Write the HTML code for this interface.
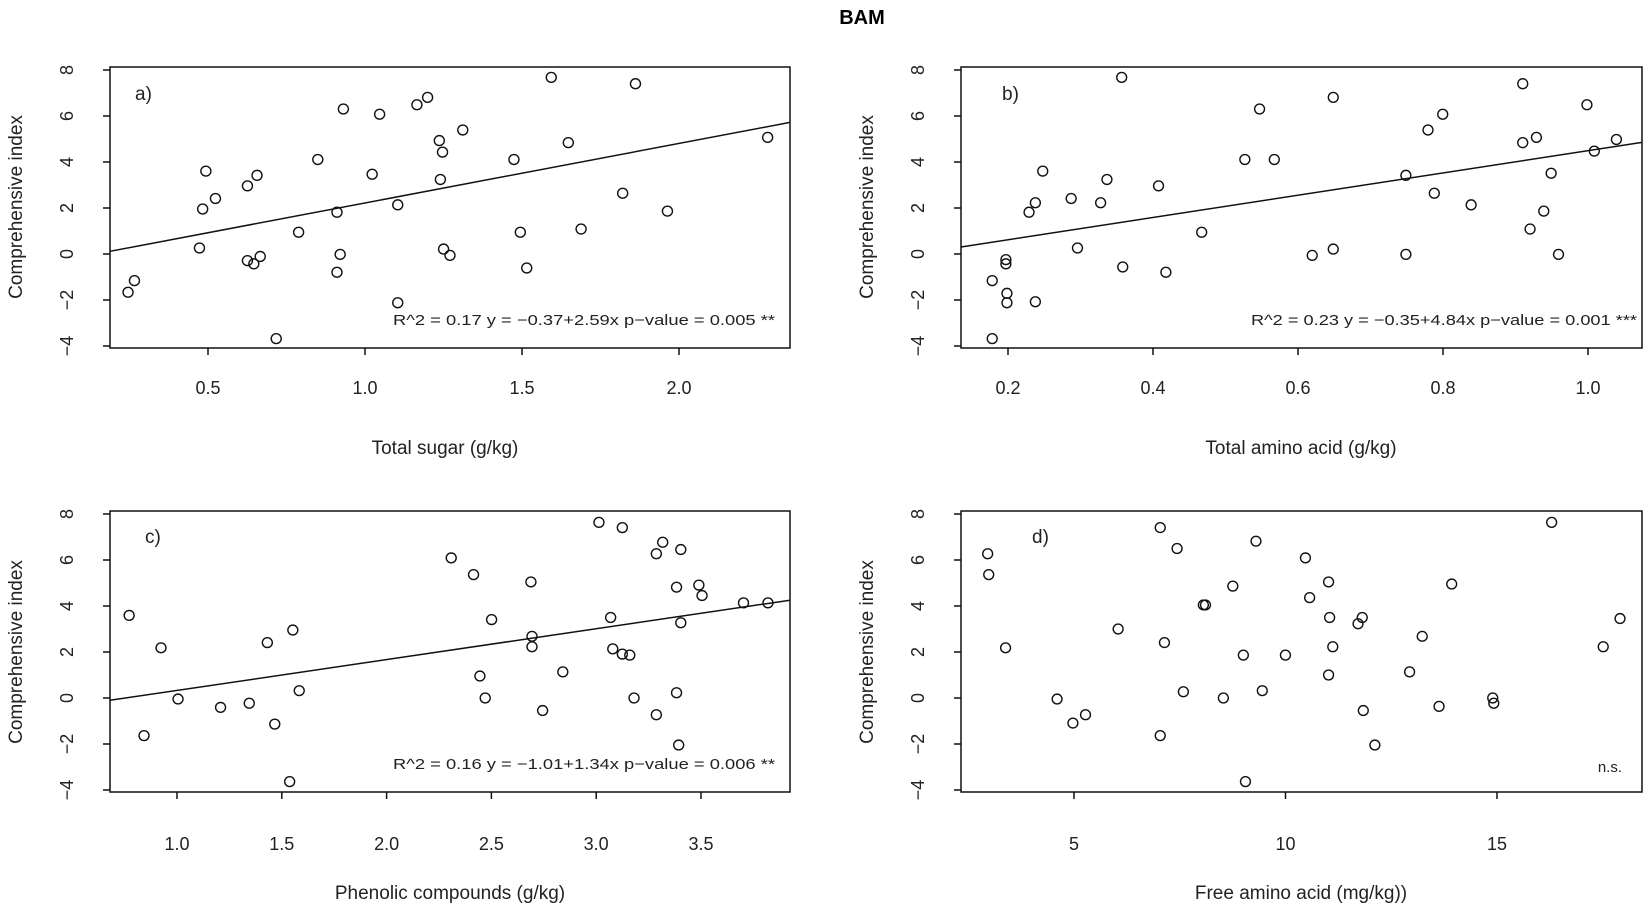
<!DOCTYPE html>
<html><head><meta charset="utf-8"><style>
html,body{margin:0;padding:0;background:#fff;}
svg{display:block;font-family:"Liberation Sans",Arial,sans-serif;}
.pt circle{fill:none;stroke:#111;stroke-width:1.4;vector-effect:non-scaling-stroke;}
.ax{stroke:#111;stroke-width:1.5;fill:none;}
.tk{font-size:18px;fill:#222;}
.lb{font-size:19px;fill:#222;}
</style></head><body>
<svg width="1645" height="906" viewBox="0 0 1645 906" xmlns="http://www.w3.org/2000/svg">
<text x="862" y="24" text-anchor="middle" font-weight="bold" font-size="20">BAM</text>

<!-- Panel a -->
<rect class="ax" x="110" y="67" width="680" height="281"/>
<g class="ax">
<path d="M103 70H110M103 116H110M103 162H110M103 208H110M103 254H110M103 300H110M103 346H110"/>
<path d="M208 348V355M365 348V355M522 348V355M679 348V355"/>
</g>
<g class="tk" text-anchor="middle">
<text x="73" y="70" transform="rotate(-90 73 70)">8</text>
<text x="73" y="116" transform="rotate(-90 73 116)">6</text>
<text x="73" y="162" transform="rotate(-90 73 162)">4</text>
<text x="73" y="208" transform="rotate(-90 73 208)">2</text>
<text x="73" y="254" transform="rotate(-90 73 254)">0</text>
<text x="73" y="300" transform="rotate(-90 73 300)">−2</text>
<text x="73" y="346" transform="rotate(-90 73 346)">−4</text>
<text x="208" y="394">0.5</text><text x="365" y="394">1.0</text><text x="522" y="394">1.5</text><text x="679" y="394">2.0</text>
</g>
<text class="lb" x="445" y="454" text-anchor="middle">Total sugar (g/kg)</text>
<text class="lb" x="22" y="207" text-anchor="middle" transform="rotate(-90 22 207)">Comprehensive index</text>
<text class="lb" x="135" y="100">a)</text>
<line x1="110" y1="251.3" x2="790" y2="122.4" stroke="#111" stroke-width="1.5"/>
<text x="775" y="325" text-anchor="end" font-size="15" textLength="382" lengthAdjust="spacingAndGlyphs" fill="#222">R^2 = 0.17 y = −0.37+2.59x p−value = 0.005 **</text>
<g class="pt" transform="matrix(1.066 0 0 1.0534 -8.4 -0.58)">
<circle cx="128" cy="278" r="4.7"/><circle cx="134" cy="267" r="4.7"/><circle cx="195" cy="236" r="4.7"/><circle cx="198" cy="199" r="4.7"/><circle cx="201" cy="163" r="4.7"/><circle cx="210" cy="189" r="4.7"/><circle cx="240" cy="177" r="4.7"/><circle cx="240" cy="248" r="4.7"/><circle cx="246" cy="251" r="4.7"/><circle cx="249" cy="167" r="4.7"/><circle cx="252" cy="244" r="4.7"/><circle cx="267" cy="322" r="4.7"/><circle cx="288" cy="221" r="4.7"/><circle cx="306" cy="152" r="4.7"/><circle cx="324" cy="202" r="4.7"/><circle cx="324" cy="259" r="4.7"/><circle cx="327" cy="242" r="4.7"/><circle cx="330" cy="104" r="4.7"/><circle cx="357" cy="166" r="4.7"/><circle cx="364" cy="109" r="4.7"/><circle cx="381" cy="288" r="4.7"/><circle cx="381" cy="195" r="4.7"/><circle cx="399" cy="100" r="4.7"/><circle cx="409" cy="93" r="4.7"/><circle cx="420" cy="134" r="4.7"/><circle cx="421" cy="171" r="4.7"/><circle cx="423" cy="145" r="4.7"/><circle cx="424" cy="237" r="4.7"/><circle cx="430" cy="243" r="4.7"/><circle cx="442" cy="124" r="4.7"/><circle cx="490" cy="152" r="4.7"/><circle cx="496" cy="221" r="4.7"/><circle cx="502" cy="255" r="4.7"/><circle cx="525" cy="74" r="4.7"/><circle cx="541" cy="136" r="4.7"/><circle cx="553" cy="218" r="4.7"/><circle cx="592" cy="184" r="4.7"/><circle cx="604" cy="80" r="4.7"/><circle cx="634" cy="201" r="4.7"/><circle cx="728" cy="131" r="4.7"/>
</g>

<!-- Panel b -->
<rect class="ax" x="961" y="67" width="681" height="281"/>
<g class="ax">
<path d="M954 70H961M954 116H961M954 162H961M954 208H961M954 254H961M954 300H961M954 346H961"/>
<path d="M1008 348V355M1153 348V355M1298 348V355M1443 348V355M1588 348V355"/>
</g>
<g class="tk" text-anchor="middle">
<text x="924" y="70" transform="rotate(-90 924 70)">8</text>
<text x="924" y="116" transform="rotate(-90 924 116)">6</text>
<text x="924" y="162" transform="rotate(-90 924 162)">4</text>
<text x="924" y="208" transform="rotate(-90 924 208)">2</text>
<text x="924" y="254" transform="rotate(-90 924 254)">0</text>
<text x="924" y="300" transform="rotate(-90 924 300)">−2</text>
<text x="924" y="346" transform="rotate(-90 924 346)">−4</text>
<text x="1008" y="394">0.2</text><text x="1153" y="394">0.4</text><text x="1298" y="394">0.6</text><text x="1443" y="394">0.8</text><text x="1588" y="394">1.0</text>
</g>
<text class="lb" x="1301" y="454" text-anchor="middle">Total amino acid (g/kg)</text>
<text class="lb" x="873" y="207" text-anchor="middle" transform="rotate(-90 873 207)">Comprehensive index</text>
<text class="lb" x="1002" y="100">b)</text>
<line x1="961" y1="247" x2="1642" y2="142.4" stroke="#111" stroke-width="1.5"/>
<text x="1637" y="325" text-anchor="end" font-size="15" textLength="386" lengthAdjust="spacingAndGlyphs" fill="#222">R^2 = 0.23 y = −0.35+4.84x p−value = 0.001 ***</text>
<g class="pt" transform="matrix(1.0526 0 0 1.0534 -4.6 -0.58)">
<circle cx="947" cy="322" r="4.7"/><circle cx="947" cy="267" r="4.7"/><circle cx="960" cy="247" r="4.7"/><circle cx="960" cy="251" r="4.7"/><circle cx="961" cy="279" r="4.7"/><circle cx="961" cy="288" r="4.7"/><circle cx="982" cy="202" r="4.7"/><circle cx="988" cy="193" r="4.7"/><circle cx="988" cy="287" r="4.7"/><circle cx="995" cy="163" r="4.7"/><circle cx="1022" cy="189" r="4.7"/><circle cx="1028" cy="236" r="4.7"/><circle cx="1050" cy="193" r="4.7"/><circle cx="1056" cy="171" r="4.7"/><circle cx="1070" cy="74" r="4.7"/><circle cx="1071" cy="254" r="4.7"/><circle cx="1105" cy="177" r="4.7"/><circle cx="1112" cy="259" r="4.7"/><circle cx="1146" cy="221" r="4.7"/><circle cx="1187" cy="152" r="4.7"/><circle cx="1201" cy="104" r="4.7"/><circle cx="1215" cy="152" r="4.7"/><circle cx="1251" cy="243" r="4.7"/><circle cx="1271" cy="93" r="4.7"/><circle cx="1271" cy="237" r="4.7"/><circle cx="1340" cy="167" r="4.7"/><circle cx="1340" cy="242" r="4.7"/><circle cx="1361" cy="124" r="4.7"/><circle cx="1367" cy="184" r="4.7"/><circle cx="1375" cy="109" r="4.7"/><circle cx="1402" cy="195" r="4.7"/><circle cx="1451" cy="80" r="4.7"/><circle cx="1451" cy="136" r="4.7"/><circle cx="1458" cy="218" r="4.7"/><circle cx="1464" cy="131" r="4.7"/><circle cx="1471" cy="201" r="4.7"/><circle cx="1478" cy="165" r="4.7"/><circle cx="1485" cy="242" r="4.7"/><circle cx="1512" cy="100" r="4.7"/><circle cx="1519" cy="144" r="4.7"/><circle cx="1540" cy="133" r="4.7"/>
</g>

<!-- Panel c -->
<rect class="ax" x="110" y="511" width="680" height="281"/>
<g class="ax">
<path d="M103 514H110M103 560H110M103 606H110M103 652H110M103 698H110M103 744H110M103 790H110"/>
<path d="M177 792V799M281.8 792V799M386.6 792V799M491.4 792V799M596.2 792V799M701 792V799"/>
</g>
<g class="tk" text-anchor="middle">
<text x="73" y="514" transform="rotate(-90 73 514)">8</text>
<text x="73" y="560" transform="rotate(-90 73 560)">6</text>
<text x="73" y="606" transform="rotate(-90 73 606)">4</text>
<text x="73" y="652" transform="rotate(-90 73 652)">2</text>
<text x="73" y="698" transform="rotate(-90 73 698)">0</text>
<text x="73" y="744" transform="rotate(-90 73 744)">−2</text>
<text x="73" y="790" transform="rotate(-90 73 790)">−4</text>
<text x="177" y="850">1.0</text><text x="281.8" y="850">1.5</text><text x="386.6" y="850">2.0</text><text x="491.4" y="850">2.5</text><text x="596.2" y="850">3.0</text><text x="701" y="850">3.5</text>
</g>
<text class="lb" x="450" y="899" text-anchor="middle">Phenolic compounds (g/kg)</text>
<text class="lb" x="22" y="652" text-anchor="middle" transform="rotate(-90 22 652)">Comprehensive index</text>
<text class="lb" x="145" y="543">c)</text>
<line x1="110" y1="700.3" x2="790" y2="600.2" stroke="#111" stroke-width="1.5"/>
<text x="775" y="769" text-anchor="end" font-size="15" textLength="382" lengthAdjust="spacingAndGlyphs" fill="#222">R^2 = 0.16 y = −1.01+1.34x p−value = 0.006 **</text>
<g class="pt" transform="matrix(1.0629 0 0 1.04545 -6.9 1.73)">
<circle cx="128" cy="587" r="4.7"/><circle cx="142" cy="702" r="4.7"/><circle cx="158" cy="618" r="4.7"/><circle cx="174" cy="667" r="4.7"/><circle cx="214" cy="675" r="4.7"/><circle cx="241" cy="671" r="4.7"/><circle cx="258" cy="613" r="4.7"/><circle cx="265" cy="691" r="4.7"/><circle cx="282" cy="601" r="4.7"/><circle cx="279" cy="746" r="4.7"/><circle cx="288" cy="659" r="4.7"/><circle cx="431" cy="532" r="4.7"/><circle cx="452" cy="548" r="4.7"/><circle cx="458" cy="645" r="4.7"/><circle cx="463" cy="666" r="4.7"/><circle cx="469" cy="591" r="4.7"/><circle cx="506" cy="555" r="4.7"/><circle cx="507" cy="607" r="4.7"/><circle cx="507" cy="617" r="4.7"/><circle cx="517" cy="678" r="4.7"/><circle cx="536" cy="641" r="4.7"/><circle cx="570" cy="498" r="4.7"/><circle cx="581" cy="589" r="4.7"/><circle cx="583" cy="619" r="4.7"/><circle cx="592" cy="503" r="4.7"/><circle cx="592" cy="624" r="4.7"/><circle cx="599" cy="625" r="4.7"/><circle cx="603" cy="666" r="4.7"/><circle cx="624" cy="528" r="4.7"/><circle cx="630" cy="517" r="4.7"/><circle cx="624" cy="682" r="4.7"/><circle cx="643" cy="560" r="4.7"/><circle cx="643" cy="661" r="4.7"/><circle cx="647" cy="524" r="4.7"/><circle cx="647" cy="594" r="4.7"/><circle cx="645" cy="711" r="4.7"/><circle cx="664" cy="558" r="4.7"/><circle cx="667" cy="568" r="4.7"/><circle cx="706" cy="575" r="4.7"/><circle cx="729" cy="575" r="4.7"/>
</g>

<!-- Panel d -->
<rect class="ax" x="961" y="511" width="681" height="281"/>
<g class="ax">
<path d="M954 514H961M954 560H961M954 606H961M954 652H961M954 698H961M954 744H961M954 790H961"/>
<path d="M1074 792V799M1285.5 792V799M1497 792V799"/>
</g>
<g class="tk" text-anchor="middle">
<text x="924" y="514" transform="rotate(-90 924 514)">8</text>
<text x="924" y="560" transform="rotate(-90 924 560)">6</text>
<text x="924" y="606" transform="rotate(-90 924 606)">4</text>
<text x="924" y="652" transform="rotate(-90 924 652)">2</text>
<text x="924" y="698" transform="rotate(-90 924 698)">0</text>
<text x="924" y="744" transform="rotate(-90 924 744)">−2</text>
<text x="924" y="790" transform="rotate(-90 924 790)">−4</text>
<text x="1074" y="850">5</text><text x="1285.5" y="850">10</text><text x="1497" y="850">15</text>
</g>
<text class="lb" x="1301" y="899" text-anchor="middle">Free amino acid (mg/kg))</text>
<text class="lb" x="873" y="652" text-anchor="middle" transform="rotate(-90 873 652)">Comprehensive index</text>
<text class="lb" x="1032" y="543">d)</text>
<text x="1622" y="772" text-anchor="end" font-size="15" fill="#222">n.s.</text>
<g class="pt" transform="matrix(1.0522 0 0 1.04545 -1.4 1.73)">
<circle cx="940" cy="528" r="4.7"/><circle cx="941" cy="548" r="4.7"/><circle cx="957" cy="618" r="4.7"/><circle cx="1006" cy="667" r="4.7"/><circle cx="1021" cy="690" r="4.7"/><circle cx="1033" cy="682" r="4.7"/><circle cx="1064" cy="600" r="4.7"/><circle cx="1104" cy="503" r="4.7"/><circle cx="1104" cy="702" r="4.7"/><circle cx="1108" cy="613" r="4.7"/><circle cx="1120" cy="523" r="4.7"/><circle cx="1126" cy="660" r="4.7"/><circle cx="1145" cy="577" r="4.7"/><circle cx="1147" cy="577" r="4.7"/><circle cx="1164" cy="666" r="4.7"/><circle cx="1173" cy="559" r="4.7"/><circle cx="1183" cy="625" r="4.7"/><circle cx="1185" cy="746" r="4.7"/><circle cx="1195" cy="516" r="4.7"/><circle cx="1201" cy="659" r="4.7"/><circle cx="1223" cy="625" r="4.7"/><circle cx="1242" cy="532" r="4.7"/><circle cx="1246" cy="570" r="4.7"/><circle cx="1264" cy="555" r="4.7"/><circle cx="1264" cy="644" r="4.7"/><circle cx="1265" cy="589" r="4.7"/><circle cx="1268" cy="617" r="4.7"/><circle cx="1292" cy="595" r="4.7"/><circle cx="1296" cy="589" r="4.7"/><circle cx="1297" cy="678" r="4.7"/><circle cx="1308" cy="711" r="4.7"/><circle cx="1341" cy="641" r="4.7"/><circle cx="1353" cy="607" r="4.7"/><circle cx="1369" cy="674" r="4.7"/><circle cx="1381" cy="557" r="4.7"/><circle cx="1420" cy="666" r="4.7"/><circle cx="1421" cy="671" r="4.7"/><circle cx="1476" cy="498" r="4.7"/><circle cx="1525" cy="617" r="4.7"/><circle cx="1541" cy="590" r="4.7"/>
</g>
</svg>
</body></html>
